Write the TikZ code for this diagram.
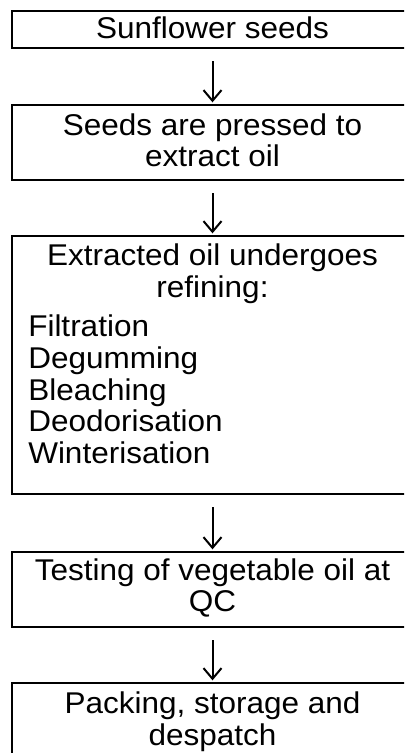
\documentclass[tikz,border=0pt]{standalone}
\usepackage{fontspec}
\setmainfont{Liberation Sans}[FakeStretch=1.05]
\usetikzlibrary{arrows.meta}
\begin{document}
\begin{tikzpicture}[x=0.75pt,y=-0.75pt,
  txt/.style={inner sep=0pt, font=\fontsize{22.5}{24}\selectfont},
  arr/.style={line width=1.5pt, -{Straight Barb[length=8pt,width=13.5pt,line width=1.5pt]}, shorten <=10pt, shorten >=2pt}]
\useasboundingbox (0,0) rectangle (404,753);
\fill[white] (0,0) rectangle (404,753);
\begin{scope}
\clip (0,0) rectangle (404,753);
\tikzset{box/.style={draw=black, line width=1.5pt, inner sep=0pt, outer sep=0pt, minimum width=340pt, anchor=north west}}
% boxes
\node[box, minimum height=27.75pt] (b1) at (12,10.7) {};
\node[box, minimum height=56.25pt] (b2) at (12,105) {};
\node[box, minimum height=193.5pt] (b3) at (12,236) {};
\node[box, minimum height=56.25pt] (b4) at (12,552) {};
\node[box, minimum height=69pt] (b5) at (12,683) {};
\end{scope}
% texts
\node[txt, anchor=base] (t1) at (212.5,38.3) {Sunflower seeds};
\node[txt, anchor=base] (t2a) at (212.5,135) {Seeds are pressed to};
\node[txt, anchor=base] (t2b) at (212.5,166.7) {extract oil};
\node[txt, anchor=base] (t3a) at (212.5,265) {Extracted oil undergoes};
\node[txt, anchor=base] (t3b) at (212.5,297) {refining:};
\node[txt, anchor=base west] (t3c) at (28,336.7) {Filtration};
\node[txt, anchor=base west] (t3d) at (28,368.4) {Degumming};
\node[txt, anchor=base west] (t3e) at (28,400.1) {Bleaching};
\node[txt, anchor=base west] (t3f) at (28,431.8) {Deodorisation};
\node[txt, anchor=base west] (t3g) at (28,463.5) {Winterisation};
\node[txt, anchor=base] (t4a) at (212.5,580) {Testing of vegetable oil at};
\node[txt, anchor=base] (t4b) at (212.5,611.7) {QC};
\node[txt, anchor=base] (t5a) at (212.5,713.3) {Packing, storage and};
\node[txt, anchor=base] (t5b) at (212.5,745) {despatch};
% arrows
\draw[arr] (b1.south -| t1) -- (b2.north -| t1);
\draw[arr] (b2.south -| t1) -- (b3.north -| t1);
\draw[arr] (b3.south -| t1) -- (b4.north -| t1);
\draw[arr] (b4.south -| t1) -- (b5.north -| t1);
\end{tikzpicture}
\end{document}
